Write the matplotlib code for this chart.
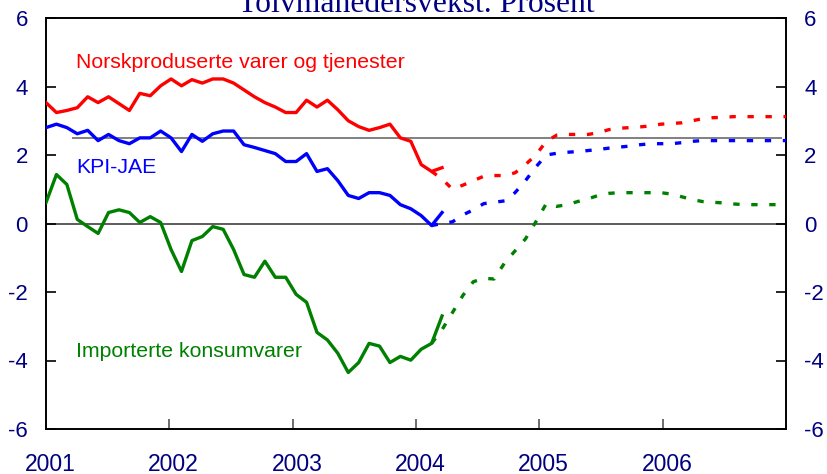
import numpy as np
import matplotlib
matplotlib.use('Agg')
import matplotlib.pyplot as plt

title = "Tolvmånedersvekst. Prosent"
year_labels = ["2001", "2002", "2003", "2004", "2005", "2006"]
label_norsk = "Norskproduserte varer og tjenester"
label_kpi = "KPI-JAE"
label_import = "Importerte konsumvarer"

# Monthly values, Jan 2001 .. Mar 2004
norsk_actual = [3.53, 3.24, 3.3, 3.38, 3.7, 3.53, 3.7, 3.5, 3.3, 3.8, 3.73, 4.02, 4.22,
                4.02, 4.2, 4.1, 4.22, 4.22, 4.1, 3.9, 3.7, 3.53, 3.4, 3.24, 3.24, 3.6,
                3.4, 3.6, 3.32, 3.0, 2.83, 2.72, 2.8, 2.9, 2.5, 2.4, 1.72, 1.52, 1.63]
kpi_actual = [2.8, 2.9, 2.8, 2.62, 2.72, 2.42, 2.6, 2.42, 2.33, 2.5, 2.5, 2.7, 2.5,
              2.1, 2.6, 2.4, 2.62, 2.7, 2.7, 2.3, 2.22, 2.13, 2.04, 1.81, 1.81, 2.04,
              1.52, 1.6, 1.25, 0.82, 0.73, 0.9, 0.9, 0.82, 0.55, 0.43, 0.23, -0.06, 0.32]
import_actual = [0.61, 1.43, 1.14, 0.12, -0.09, -0.29, 0.32, 0.4, 0.32, 0.03, 0.2, 0.03,
                 -0.76, -1.4, -0.5, -0.38, -0.09, -0.17, -0.76, -1.49, -1.57, -1.1, -1.57,
                 -1.57, -2.07, -2.3, -3.18, -3.4, -3.79, -4.35, -4.06, -3.5, -3.58, -4.06,
                 -3.88, -3.99, -3.67, -3.5, -2.7]

# Projections, Feb 2004 .. Dec 2006
fc_start = 37
norsk_fc = [1.52, 1.3, 1.0, 1.12, 1.25, 1.38, 1.4, 1.4, 1.48, 1.72, 2.0, 2.4, 2.58, 2.6,
            2.6, 2.6, 2.65, 2.74, 2.78, 2.8, 2.82, 2.85, 2.9, 2.92, 2.94, 3.0, 3.06, 3.09,
            3.1, 3.12, 3.12, 3.12, 3.12, 3.12, 3.12]
kpi_fc = [-0.06, 0.0, 0.05, 0.25, 0.4, 0.58, 0.62, 0.66, 0.9, 1.25, 1.65, 2.0, 2.05, 2.08,
          2.1, 2.13, 2.16, 2.2, 2.23, 2.26, 2.3, 2.33, 2.33, 2.33, 2.36, 2.4, 2.42, 2.42,
          2.42, 2.42, 2.42, 2.42, 2.42, 2.42, 2.42]
import_fc = [-3.5, -3.1, -2.6, -2.1, -1.7, -1.6, -1.62, -1.15, -0.8, -0.45, 0.05, 0.58, 0.5,
             0.55, 0.64, 0.72, 0.82, 0.88, 0.9, 0.9, 0.9, 0.9, 0.9, 0.86, 0.78, 0.7, 0.64,
             0.62, 0.6, 0.57, 0.55, 0.55, 0.55, 0.55, 0.55]
inflation_target = 2.5

RED, BLUE, GREEN = '#ff0000', '#0000ff', '#008000'
NAVY = '#000080'

def month_x(start, n):
    m = np.arange(start, start + n)
    return 2001 + m * 6 / 71.0

fig = plt.figure(figsize=(8.27, 4.74), dpi=100)
ax = fig.add_axes([46/827, 1-429/474, 740/827, 411/474])
ax.set_xlim(2001, 2007)
ax.set_ylim(-6, 6)

ax.axhline(0, color='#303030', lw=1.1, zorder=1)
ax.hlines(inflation_target, 2001.21, 2006.97, color='#808080', lw=1.4, zorder=1)

lw = 2.4
dash = (0, (1.9, 3.5))
ax.plot(month_x(0, len(norsk_actual)), norsk_actual, color=RED, lw=lw, zorder=3)
ax.plot(month_x(0, len(kpi_actual)), kpi_actual, color=BLUE, lw=lw, zorder=3)
ax.plot(month_x(0, len(import_actual)), import_actual, color=GREEN, lw=lw, zorder=3)
ax.plot(month_x(fc_start, len(norsk_fc)), norsk_fc, color=RED, lw=lw, ls=dash, zorder=3)
ax.plot(month_x(fc_start, len(kpi_fc)), kpi_fc, color=BLUE, lw=lw, ls=dash, zorder=3)
ax.plot(month_x(fc_start, len(import_fc)), import_fc, color=GREEN, lw=lw, ls=dash, zorder=3)

for s in ax.spines.values():
    s.set_linewidth(1.4)
    s.set_color('black')

ax.set_yticks(np.arange(-6, 7, 2))
ax.set_yticklabels([str(v) for v in range(-6, 7, 2)])
ax.tick_params(axis='y', direction='in', length=7, width=1.2, left=True, right=True,
               labelleft=True, labelright=True, labelsize=16, labelcolor=NAVY, pad=13)
for lab in ax.get_yticklabels():
    lab.set_fontfamily('Liberation Sans')

years = [int(y) for y in year_labels]
ax.set_xticks(years[1:])
ax.set_xticklabels([])
ax.tick_params(axis='x', which='major', direction='in', length=7, width=1.2, color='#555555')
ax.set_xticks([y + 0.035 for y in years], minor=True)
ax.set_xticklabels(year_labels, minor=True, fontsize=16.5, color=NAVY, family='Liberation Sans')
ax.tick_params(axis='x', which='minor', length=0, pad=17)

fig.text(0.5 * (46 + 786) / 827, 1 - 12/474, title, ha='center', va='baseline',
         fontsize=22.8, color=NAVY, family='Liberation Serif')
fig.text(76/827, 1 - 68/474, label_norsk, color=RED, fontsize=15.3, family='Liberation Sans',
         va='baseline')
fig.text(76/827, 1 - 173/474, label_kpi, color=BLUE, fontsize=15.3, family='Liberation Sans',
         va='baseline')
fig.text(76/827, 1 - 357/474, label_import, color=GREEN, fontsize=15.3, family='Liberation Sans',
         va='baseline')

fig.savefig('out.png', dpi=100)
